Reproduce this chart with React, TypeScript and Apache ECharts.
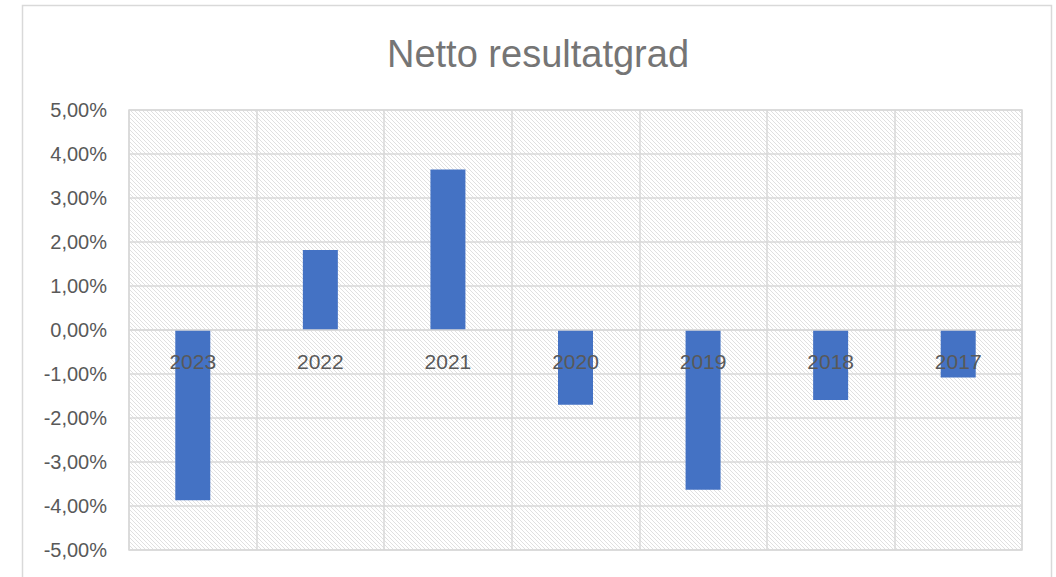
import React, { useEffect, useRef } from "react";
import * as echarts from "echarts";

const categories = ["2023", "2022", "2021", "2020", "2019", "2018", "2017"];
const values = [-3.87, 1.82, 3.65, -1.7, -3.63, -1.59, -1.08];
const titleText = "Netto resultatgrad";

function makeHatch(): string {
  const c = document.createElement("canvas");
  const n = 4;
  c.width = n;
  c.height = n;
  const ctx = c.getContext("2d")!;
  ctx.fillStyle = "#ffffff";
  ctx.fillRect(0, 0, n, n);
  ctx.fillStyle = "#e0e0e0";
  for (let i = 0; i < n; i++) ctx.fillRect(i, i, 1, 1);
  return c.toDataURL();
}

export default function App() {
  const ref = useRef<HTMLDivElement>(null);
  useEffect(() => {
    document.body.style.margin = "0";
    const chart = echarts.init(ref.current!, null, { renderer: "svg" });
    const font = "Liberation Sans";
    chart.setOption({
      animation: false,
      backgroundColor: "#ffffff",
      title: {
        text: titleText,
        left: 533,
        textAlign: "center",
        top: 30,
        textStyle: { fontFamily: font, fontSize: 38, fontWeight: "normal", color: "#757575" },
      },
      graphic: [
        {
          type: "rect",
          shape: { x: 22.5, y: 5.5, width: 1029, height: 620 },
          style: { fill: "none", stroke: "#d9d9d9", lineWidth: 1.5 },
          silent: true,
          z: 100,
        },
      ],
      grid: {
        left: 129,
        top: 110,
        right: 34,
        bottom: 27,
        outerBoundsMode: "none",
        containLabel: false,
        show: true,
        backgroundColor: { image: makeHatch(), repeat: "repeat" },
        borderColor: "#d9d9d9",
        borderWidth: 1.5,
      },
      xAxis: {
        type: "category",
        data: categories,
        offset: -220,
        axisLine: { show: true, onZero: false, lineStyle: { color: "#d9d9d9", width: 1.5 } },
        axisTick: { show: false },
        axisLabel: { margin: 21, fontFamily: font, fontSize: 21, color: "#595959" },
        splitLine: { show: true, lineStyle: { color: "#d9d9d9", width: 1.5 } },
        z: 5,
      },
      yAxis: {
        type: "value",
        min: -5,
        max: 5,
        interval: 1,
        axisLine: { show: false },
        axisTick: { show: false },
        axisLabel: {
          margin: 22,
          fontFamily: font,
          fontSize: 20,
          color: "#595959",
          formatter: (v: number) => v.toFixed(2).replace(".", ",") + "%",
        },
        splitLine: { show: true, lineStyle: { color: "#d9d9d9", width: 1.5 } },
      },
      series: [
        {
          type: "bar",
          data: values,
          barWidth: 35,
          itemStyle: { color: "#4472C4" },
          z: 1,
        },
      ],
    });
    return () => chart.dispose();
  }, []);
  return <div ref={ref} style={{ width: 1056, height: 577 }} />;
}
